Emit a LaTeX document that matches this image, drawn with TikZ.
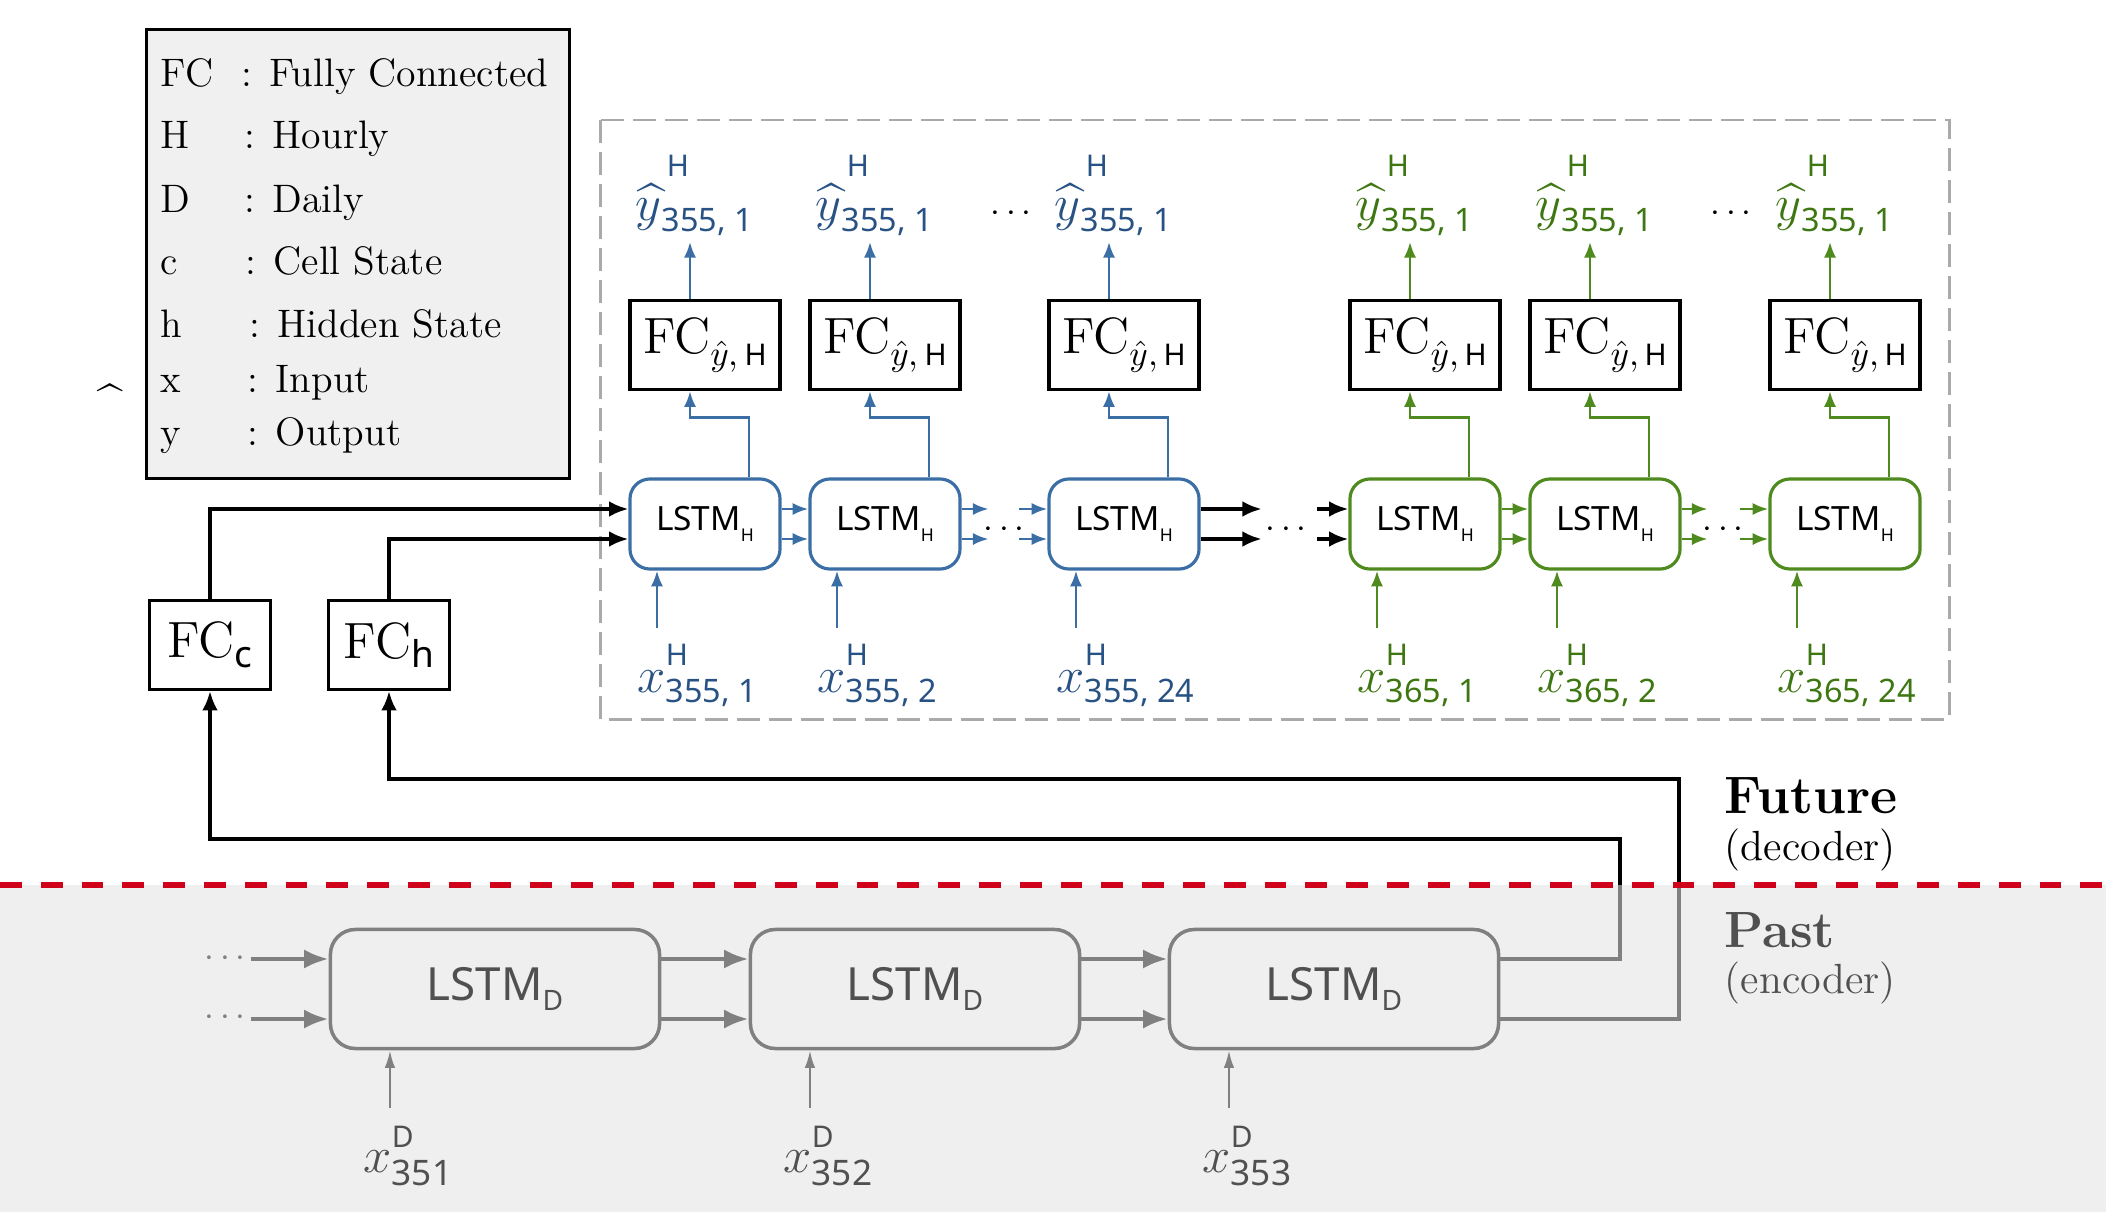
\documentclass[tikz,border=0pt]{standalone}
\usepackage{amsmath}
\usepackage{fontspec}
\setsansfont{Noto Sans}
\usepackage{xcolor}
\usepackage{tikz}
\usetikzlibrary{arrows.meta}

\definecolor{hblue}{RGB}{58,110,165}
\definecolor{hbluetext}{RGB}{40,82,132}
\definecolor{hgreen}{RGB}{78,138,30}
\definecolor{hgreentext}{RGB}{62,118,18}
\definecolor{encgray}{RGB}{128,128,128}
\definecolor{enctext}{RGB}{80,80,80}
\definecolor{pastbg}{RGB}{239,239,239}
\definecolor{legendbg}{RGB}{240,240,240}
\definecolor{dashgray}{RGB}{170,170,170}
\definecolor{splitred}{RGB}{208,2,27}

% sans scripts for the sequence labels
\newcommand{\lblsub}[1]{\mbox{\fontsize{9.2}{10}\selectfont\sffamily #1}}
\newcommand{\lblsup}[1]{\mbox{\fontsize{8.5}{9}\selectfont\sffamily #1}}
\newcommand{\yhatlbl}[1]{$\widehat{y}$\rlap{\hspace{1.5pt}\raisebox{12.5pt}{\lblsup{H}}}\raisebox{-3.4pt}{\lblsub{#1}}}
\newcommand{\xhlbl}[1]{$x$\rlap{\raisebox{7.5pt}{\lblsup{H}}}\raisebox{-3.1pt}{\lblsub{#1}}}
\newcommand{\xdlbl}[1]{$x$\rlap{\raisebox{7pt}{\lblsup{D}}}\raisebox{-3.7pt}{\mbox{\fontsize{10}{11}\selectfont\sffamily #1}}}

\begin{document}
\begin{tikzpicture}[
  x=0.01cm, y=-0.01cm,
  fcbox/.style={draw, line width=0.9pt, fill=white, minimum width=1.5cm,
    minimum height=0.89cm, inner sep=0pt, font=\fontsize{14.5}{16}\selectfont},
  lstmh/.style={draw, line width=0.9pt, rounded corners=0.2cm, fill=white,
    minimum width=1.5cm, minimum height=0.9cm, inner sep=0pt,
    font=\fontsize{9.5}{11}\selectfont\sffamily},
  lstmd/.style={draw=encgray, line width=1pt, rounded corners=0.25cm,
    minimum width=3.29cm, minimum height=1.19cm, inner sep=0pt, text=enctext,
    font=\fontsize{13}{15}\selectfont\sffamily},
  lbl/.style={anchor=base west, inner sep=0pt, font=\fontsize{15.5}{18}\selectfont},
  legtext/.style={anchor=base west, inner sep=0pt, font=\fontsize{11.3}{13}\selectfont},
  sidetext/.style={anchor=base west, inner sep=0pt},
  hline/.style={line width=0.8pt, -{Latex[length=4.5pt,width=3.5pt]}},
  conn/.style={line width=1pt, -{Latex[length=5.5pt,width=4.5pt]}},
  encline/.style={encgray, line width=1.3pt, -{Latex[length=7pt,width=5.5pt]}}
]
  \useasboundingbox (0,0) rectangle (2106,1212);
  \fill[pastbg] (0,885) rectangle (2106,1212);

  % legend
  \node[draw, line width=0.9pt, fill=legendbg, minimum width=4.23cm,
    minimum height=4.48cm] (legend) at (358,254) {};
  \foreach \k/\d/\cx/\y [count=\n] in {FC/Fully Connected/241/86, H/Hourly/244/148,
      D/Daily/244/212, c/Cell State/245/274, h/Hidden State/249/337,
      x/Input/247/392, y/Output/247/445} {
    \node[legtext] (lk\n) at (160,\y) {\k};
    \node[legtext] (ld\n) at (\cx,\y) {: \d};
  }
  \node[font=\fontsize{13}{15}\selectfont, inner sep=0pt] (hatmark) at (110,400) {\^{}};

  % hourly decoder
  \draw[dashgray, line width=0.85pt, dash pattern=on 6.5pt off 2.6pt] (600,120) rectangle (1949,719);
  \foreach \i/\x/\c/\t/\s in {1/705/hblue/hbluetext/{355, 1}, 2/885/hblue/hbluetext/{355, 2},
      3/1124/hblue/hbluetext/{355, 24}, 4/1425/hgreen/hgreentext/{365, 1},
      5/1605/hgreen/hgreentext/{365, 2}, 6/1845/hgreen/hgreentext/{365, 24}} {
    \node[fcbox] (fcy\i) at (\x,345) {FC\raisebox{-3.4pt}{\fontsize{10}{11}\selectfont$\hat{y}$,\,\fontsize{8.5}{9}\selectfont\sffamily H}};
    \node[lstmh, draw=\c] (lstm\i) at (\x,524) {LSTM\raisebox{-3pt}{\fontsize{5}{6}\selectfont H}};
    \node[lbl, text=\t] (yh\i) at (\x-70,220) {\yhatlbl{355, 1}};
    \node[lbl, text=\t] (xh\i) at (\x-68,692) {\xhlbl{\s}};
    \draw[\c, hline] ([xshift=0.44cm]lstm\i.north) -- ++(0,-60) -| ([xshift=-0.15cm]fcy\i.south);
    \draw[\c, hline, shorten >=0.05cm] ([xshift=-0.15cm]fcy\i.north) -- ([xshift=-0.15cm]fcy\i.north |- yh\i.south);
    \draw[\c, hline, shorten <=0.16cm] ([xshift=-0.48cm]lstm\i.south |- xh\i.north) -- ([xshift=-0.48cm]lstm\i.south);
  }
  \node (ydots1) at (1014,214) {$\cdots$};
  \node (ydots2) at (1734,214) {$\cdots$};
  \node (hdots1) at (1007,530) {$\cdots$};
  \node (hdots2) at (1289,530) {$\cdots$};
  \node (hdots3) at (1726,530) {$\cdots$};
  \foreach \o in {0.15cm,-0.15cm} {
    \draw[hblue, hline] ([yshift=\o]lstm1.east) -- ([yshift=\o]lstm2.west);
    \draw[hblue, hline] ([yshift=\o]lstm2.east) -- ([yshift=\o,xshift=0.27cm]lstm2.east);
    \draw[hblue, hline] ([yshift=\o,xshift=-0.28cm]lstm3.west) -- ([yshift=\o]lstm3.west);
    \draw[conn] ([yshift=\o]lstm3.east) -- ([yshift=\o,xshift=0.61cm]lstm3.east);
    \draw[conn] ([yshift=\o,xshift=-0.31cm]lstm4.west) -- ([yshift=\o]lstm4.west);
    \draw[hgreen, hline] ([yshift=\o]lstm4.east) -- ([yshift=\o]lstm5.west);
    \draw[hgreen, hline] ([yshift=\o]lstm5.east) -- ([yshift=\o,xshift=0.26cm]lstm5.east);
    \draw[hgreen, hline] ([yshift=\o,xshift=-0.28cm]lstm6.west) -- ([yshift=\o]lstm6.west);
  }

  % initial states
  \node[fcbox, minimum width=1.21cm] (fcc) at (210,645) {FC\raisebox{-2.8pt}{\fontsize{10.5}{12}\selectfont\sffamily c}};
  \node[fcbox, minimum width=1.21cm] (fch) at (389,645) {FC\raisebox{-2.8pt}{\fontsize{10.5}{12}\selectfont\sffamily h}};
  \draw[conn] (fcc.north) |- ([yshift=0.15cm]lstm1.west);
  \draw[conn] (fch.north) |- ([yshift=-0.15cm]lstm1.west);

  % daily encoder
  \node[lstmd] (enc1) at (495,989) {LSTM\raisebox{-3pt}{\fontsize{8}{9}\selectfont D}};
  \node[lstmd] (enc2) at (915,989) {LSTM\raisebox{-3pt}{\fontsize{8}{9}\selectfont D}};
  \node[lstmd] (enc3) at (1334,989) {LSTM\raisebox{-3pt}{\fontsize{8}{9}\selectfont D}};
  \node[text=encgray] (edots1) at (228,959) {$\cdots$};
  \node[text=encgray] (edots2) at (228,1018) {$\cdots$};
  \foreach \o in {0.3cm,-0.3cm} {
    \draw[encline] ([yshift=\o,xshift=-0.78cm]enc1.west) -- ([yshift=\o]enc1.west);
    \draw[encline] ([yshift=\o]enc1.east) -- ([yshift=\o]enc2.west);
    \draw[encline] ([yshift=\o]enc2.east) -- ([yshift=\o]enc3.west);
  }
  \foreach \j/\n in {1/351, 2/352, 3/353} {
    \node[lbl, text=enctext] (xd\j) at ([xshift=-1.32cm,yshift=-1.22cm]enc\j.south) {\xdlbl{\n}};
    \draw[encgray, line width=0.7pt, -{Latex[length=5pt,width=3pt]}, shorten <=0.18cm]
      ([xshift=-1.05cm]enc\j.south |- xd\j.north) -- ([xshift=-1.05cm]enc\j.south);
  }

  % states handed to the decoder
  \coordinate (crossc) at (1620,885);
  \coordinate (crossh) at (1679,885);
  \draw[encline, -] ([yshift=0.3cm]enc3.east) -| (crossc);
  \draw[encline, -] ([yshift=-0.3cm]enc3.east) -| (crossh);
  \draw[conn] (crossc) -- ++(0,-46) -| (fcc.south);
  \draw[conn] (crossh) -- ++(0,-106) -| (fch.south);

  \draw[splitred, line width=1.7pt, dash pattern=on 6.2pt off 5.4pt] (0,885) -- (2106,885);

  \node[sidetext, font=\fontsize{15}{17}\selectfont\bfseries] (future) at (1724,813) {Future};
  \node[sidetext, font=\fontsize{12}{14}\selectfont] (decoder) at (1724,860) {(decoder)};
  \node[sidetext, text=enctext, font=\fontsize{14.5}{17}\selectfont\bfseries] (past) at (1724,947) {Past};
  \node[sidetext, text=enctext, font=\fontsize{12}{14}\selectfont] (encoder) at (1724,993) {(encoder)};
\end{tikzpicture}
\end{document}
